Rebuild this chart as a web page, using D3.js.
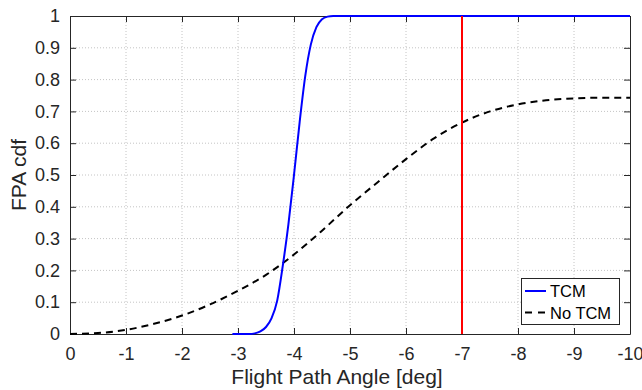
<!DOCTYPE html>
<html>
<head>
<meta charset="utf-8">
<script src="https://cdn.jsdelivr.net/npm/d3@7"></script>
<style>
  html, body { margin: 0; padding: 0; background: #fff; }
  svg { display: block; font-family: "Liberation Sans", Arial, Helvetica, sans-serif; }
</style>
</head>
<body>
<svg id="chart" width="642" height="390"></svg>
<script>
// Flight path angle (deg) and cumulative distribution of the two cases
const tcmAngle = [-2.9, -3.2, -3.3, -3.4, -3.5, -3.6, -3.7, -3.8, -3.9, -4.0, -4.1, -4.2, -4.3, -4.4, -4.5, -4.6, -4.7, -5.0, -10];
const tcmCdf   = [0, 0.0, 0.002, 0.008, 0.022, 0.05, 0.105, 0.215, 0.345, 0.5, 0.665, 0.81, 0.91, 0.965, 0.99, 0.998, 1.0, 1.0, 1.0];

const noTcmAngle = [0, -0.5, -1, -1.5, -2, -2.5, -3, -3.5, -4, -4.5, -5, -5.5, -6, -6.5, -7, -7.5, -8, -8.5, -9, -9.5, -10];
const noTcmCdf   = [0, 0.003, 0.013, 0.032, 0.058, 0.093, 0.136, 0.186, 0.25, 0.325, 0.405, 0.478, 0.55, 0.615, 0.665, 0.7, 0.722, 0.735, 0.741, 0.743, 0.743];

const limitAngle = -7;

const xTicks = [0, -1, -2, -3, -4, -5, -6, -7, -8, -9, -10];
const yTicks = [0, 0.1, 0.2, 0.3, 0.4, 0.5, 0.6, 0.7, 0.8, 0.9, 1];

const seriesNames = ["TCM", "No TCM"];

const svg = d3.select("#chart");
const plotLeft = 70, plotRight = 630, plotTop = 16, plotBottom = 334;

const x = d3.scaleLinear().domain([0, -10]).range([plotLeft, plotRight]);
const y = d3.scaleLinear().domain([0, 1]).range([plotBottom, plotTop]);

const axisColor = "#262626";
const gridColor = "#c4c4c4";

// grid
const grid = svg.append("g");
grid.selectAll("line.gx").data(xTicks.slice(1, -1)).join("line")
  .attr("x1", d => x(d)).attr("x2", d => x(d))
  .attr("y1", plotTop).attr("y2", plotBottom)
  .attr("stroke", gridColor).attr("stroke-width", 1)
  .attr("stroke-dasharray", "1,2");
grid.selectAll("line.gy").data(yTicks.slice(1, -1)).join("line")
  .attr("x1", plotLeft).attr("x2", plotRight)
  .attr("y1", d => y(d)).attr("y2", d => y(d))
  .attr("stroke", gridColor).attr("stroke-width", 1)
  .attr("stroke-dasharray", "1,2");

// axes with inward ticks on all four sides
const tickLen = 6;
const fmtY = d => d === 0 ? "0" : d === 1 ? "1" : d3.format(".1f")(d);
const fmtX = d => d === 0 ? "0" : String(d);

const xAxisB = svg.append("g").attr("transform", `translate(0,${plotBottom})`)
  .call(d3.axisBottom(x).tickValues(xTicks).tickFormat(fmtX).tickSizeInner(-tickLen).tickSizeOuter(0).tickPadding(13));
const xAxisT = svg.append("g").attr("transform", `translate(0,${plotTop})`)
  .call(d3.axisTop(x).tickValues(xTicks).tickFormat("").tickSizeInner(-tickLen).tickSizeOuter(0));
const yAxisL = svg.append("g").attr("transform", `translate(${plotLeft},0)`)
  .call(d3.axisLeft(y).tickValues(yTicks).tickFormat(fmtY).tickSizeInner(-tickLen).tickSizeOuter(0).tickPadding(10));
const yAxisR = svg.append("g").attr("transform", `translate(${plotRight},0)`)
  .call(d3.axisRight(y).tickValues(yTicks).tickFormat("").tickSizeInner(-tickLen).tickSizeOuter(0));

[xAxisB, xAxisT, yAxisL, yAxisR].forEach(g => {
  g.selectAll(".domain").attr("stroke", axisColor).attr("stroke-width", 1);
  g.selectAll(".tick line").attr("stroke", axisColor).attr("stroke-width", 1);
  g.selectAll(".tick text").attr("fill", axisColor).attr("font-size", 18)
    .attr("font-family", "'Liberation Sans', Arial, sans-serif");
});

// axis titles
svg.append("text")
  .attr("x", 337).attr("y", 384)
  .attr("text-anchor", "middle")
  .attr("font-size", 21).attr("fill", axisColor)
  .text("Flight Path Angle [deg]");
svg.append("text")
  .attr("transform", `translate(26,175) rotate(-90)`)
  .attr("text-anchor", "middle")
  .attr("font-size", 21).attr("fill", axisColor)
  .text("FPA cdf");

// curves
const line = d3.line().x(d => x(d[0])).y(d => y(d[1])).curve(d3.curveMonotoneX);

svg.append("path")
  .datum(noTcmAngle.map((a, i) => [a, noTcmCdf[i]]))
  .attr("d", line)
  .attr("fill", "none").attr("stroke", "#000").attr("stroke-width", 2)
  .attr("stroke-dasharray", "7,5");

svg.append("path")
  .datum(tcmAngle.map((a, i) => [a, tcmCdf[i]]))
  .attr("d", line)
  .attr("fill", "none").attr("stroke", "#0000ff").attr("stroke-width", 2);

// limit marker
svg.append("line")
  .attr("x1", x(limitAngle)).attr("x2", x(limitAngle))
  .attr("y1", y(0)).attr("y2", y(1))
  .attr("stroke", "#ff0000").attr("stroke-width", 2);

// legend
const lg = svg.append("g");
lg.append("rect")
  .attr("x", 521.5).attr("y", 278.5).attr("width", 98).attr("height", 46)
  .attr("fill", "#fff").attr("stroke", axisColor).attr("stroke-width", 1);
const legendStyles = [
  { color: "#0000ff", dash: null },
  { color: "#000", dash: "7,6" }
];
seriesNames.forEach((name, i) => {
  const yy = 291 + i * 21.5;
  lg.append("line")
    .attr("x1", 525).attr("x2", 546).attr("y1", yy).attr("y2", yy)
    .attr("stroke", legendStyles[i].color).attr("stroke-width", 2)
    .attr("stroke-dasharray", legendStyles[i].dash);
  lg.append("text")
    .attr("x", 550).attr("y", yy + 6)
    .attr("font-size", 16.5).attr("fill", "#000")
    .text(name);
});
</script>
</body>
</html>
